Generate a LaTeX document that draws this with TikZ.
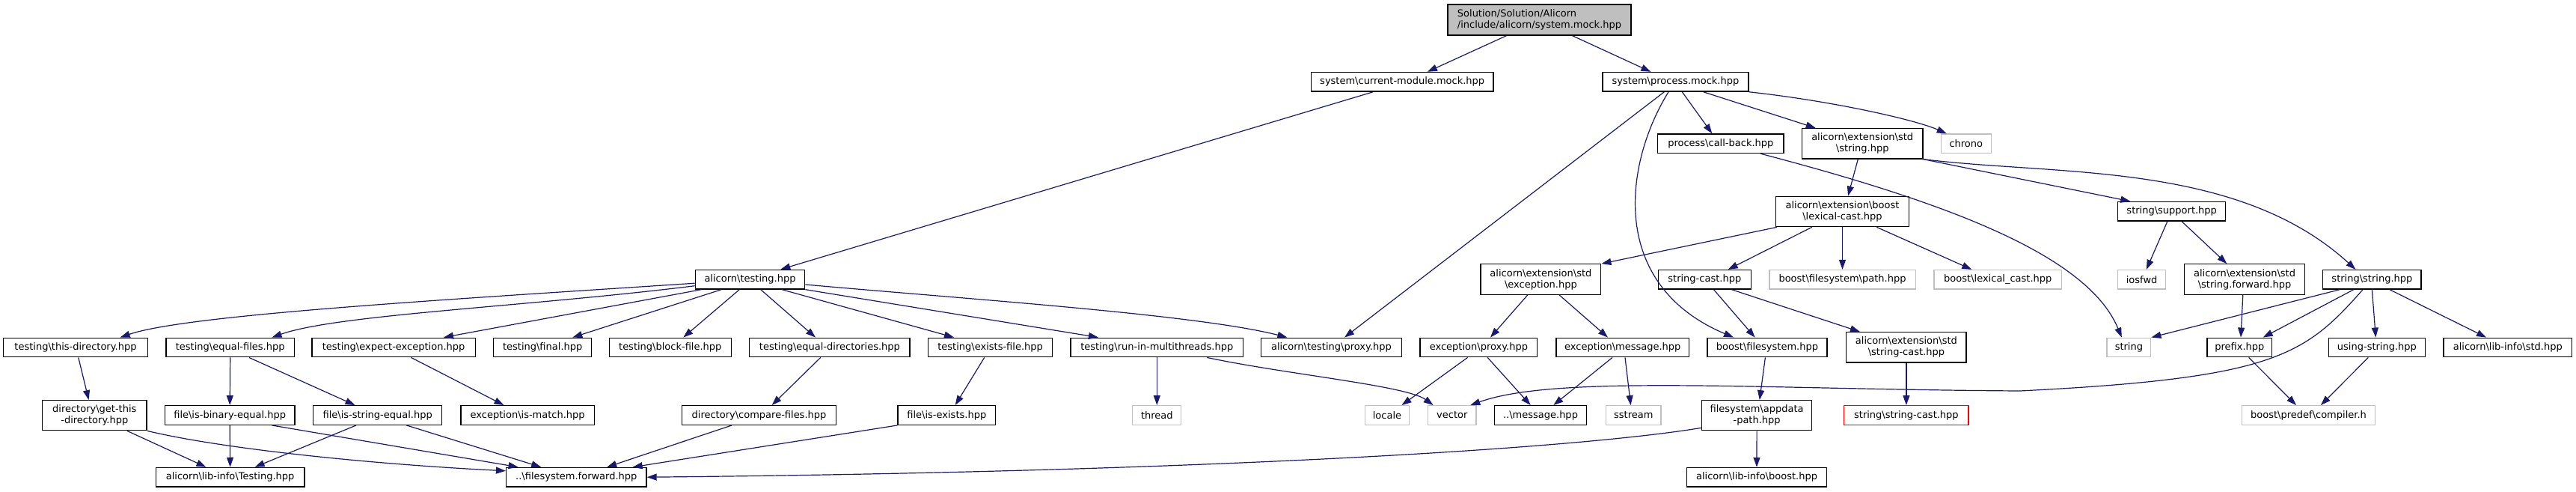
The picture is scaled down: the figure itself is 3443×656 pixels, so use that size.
\documentclass[tikz,border=0pt]{standalone}
\usepackage{fontspec}
\setmainfont{DejaVu Sans}
\usetikzlibrary{arrows.meta}
\definecolor{edgec}{HTML}{191970}
\definecolor{sysc}{HTML}{BFBFBF}
\newcommand\bks{\textbackslash}
\begin{document}
\begin{tikzpicture}[x=1pt,y=-1pt,font=\fontsize{13}{15}\selectfont,
  fbox/.style={draw=black,line width=1.3pt,fill=white,inner sep=0pt,align=center,minimum height=25.6pt},
  sbox/.style={fbox,draw=sysc},
  rbox/.style={fbox,draw=red},
  two/.style={minimum height=40.4pt},
  dep/.style={draw=edgec,line width=1.2pt,-{Triangle[length=13pt,width=9pt]}}]
\useasboundingbox (0,0) rectangle (3443,656);
\fill[white] (0,0) rectangle (3443,656);
% nodes
\node[fbox,fill=sysc,align=left,minimum width=245pt,minimum height=41pt] (root) at (2057.5,26.5) {Solution/Solution/Alicorn\\/include/alicorn/system.mock.hpp};
\node[fbox,minimum width=243.5pt] (curmod) at (1874.2,109.3) {system\bks current-module.mock.hpp};
\node[fbox,minimum width=195pt] (procmock) at (2239.5,109.3) {system\bks process.mock.hpp};
\node[fbox,minimum width=168.3pt] (callback) at (2299.8,191.8) {process\bks call-back.hpp};
\node[fbox,two,minimum width=161.7pt] (stdstring) at (2489.2,191.8) {alicorn\bks extension\bks std\\\bks string.hpp};
\node[sbox,minimum width=67pt] (chrono) at (2627.8,191.8) {chrono};
\node[fbox,minimum width=146.4pt] (testing) at (1002.5,373.2) {alicorn\bks testing.hpp};
\node[fbox,two,minimum width=177.6pt] (lexicalcast) at (2462.5,282.5) {alicorn\bks extension\bks boost\\\bks lexical-cast.hpp};
\node[fbox,minimum width=144pt] (support) at (2902.7,282.3) {string\bks support.hpp};
\node[fbox,two,minimum width=160.8pt] (stdexception) at (2059.4,373) {alicorn\bks extension\bks std\\\bks exception.hpp};
\node[fbox,minimum width=124pt] (stringcast) at (2278.3,373.3) {string-cast.hpp};
\node[sbox,minimum width=195.3pt] (fspath) at (2462.5,373.3) {boost\bks filesystem\bks path.hpp};
\node[sbox,minimum width=170.6pt] (lexcast) at (2670.3,373.3) {boost\bks lexical\_cast.hpp};
\node[sbox,minimum width=64pt] (iosfwd) at (2862.6,373.3) {iosfwd};
\node[fbox,two,minimum width=161.2pt] (stringforward) at (3000,373) {alicorn\bks extension\bks std\\\bks string.forward.hpp};
\node[fbox,minimum width=131.2pt] (stringstring) at (3170.4,373.3) {string\bks string.hpp};
% row 3
\node[fbox,minimum width=192.8pt] (thisdir) at (101,464) {testing\bks this-directory.hpp};
\node[fbox,minimum width=171.4pt] (equalfiles) at (307.7,464) {testing\bks equal-files.hpp};
\node[fbox,minimum width=218.2pt] (expectexc) at (526.1,464) {testing\bks expect-exception.hpp};
\node[fbox,minimum width=130.9pt] (final) at (725.2,464) {testing\bks final.hpp};
\node[fbox,minimum width=163pt] (blockfile) at (895.8,464) {testing\bks block-file.hpp};
\node[fbox,minimum width=214.3pt] (equaldirs) at (1108.9,464) {testing\bks equal-directories.hpp};
\node[fbox,minimum width=166pt] (existsfile) at (1323.6,464) {testing\bks exists-file.hpp};
\node[fbox,minimum width=230.5pt] (multithreads) at (1546.3,464) {testing\bks run-in-multithreads.hpp};
\node[fbox,minimum width=188.3pt] (tproxy) at (1779.4,464) {alicorn\bks testing\bks proxy.hpp};
\node[fbox,minimum width=156.8pt] (eproxy) at (1976.4,464) {exception\bks proxy.hpp};
\node[fbox,minimum width=177.6pt] (emessage) at (2168.8,464) {exception\bks message.hpp};
\node[fbox,minimum width=160pt] (boostfs) at (2362,464) {boost\bks filesystem.hpp};
\node[fbox,two,minimum width=160.3pt] (sstringcast) at (2547.9,463.9) {alicorn\bks extension\bks std\\\bks string-cast.hpp};
\node[sbox,minimum width=58.7pt] (string) at (2845.4,464) {string};
\node[fbox,minimum width=86.6pt] (prefix) at (2993.3,464) {prefix.hpp};
\node[fbox,minimum width=129pt] (usingstring) at (3176.9,464) {using-string.hpp};
\node[fbox,minimum width=171.6pt] (libstd) at (3351.8,464) {alicorn\bks lib-info\bks std.hpp};
% row 4
\node[fbox,two,minimum width=139.4pt,minimum height=40pt] (getthisdir) at (126.3,554.7) {directory\bks get-this\\-directory.hpp};
\node[fbox,minimum width=173.6pt] (isbinary) at (307.2,554.5) {file\bks is-binary-equal.hpp};
\node[fbox,minimum width=172.2pt] (isstring) at (504.7,554.5) {file\bks is-string-equal.hpp};
\node[fbox,minimum width=178.4pt] (ismatch) at (705.2,554.5) {exception\bks is-match.hpp};
\node[fbox,minimum width=205.6pt] (comparefiles) at (1014.5,554.5) {directory\bks compare-files.hpp};
\node[fbox,minimum width=130.7pt] (isexists) at (1265.3,554.5) {file\bks is-exists.hpp};
\node[sbox,minimum width=65pt] (thread) at (1546.3,554.5) {thread};
\node[sbox,minimum width=59pt] (locale) at (1854,554.5) {locale};
\node[sbox,minimum width=64.3pt] (vector) at (1940.8,554.5) {vector};
\node[fbox,minimum width=123.2pt] (message) at (2059,554.5) {..\bks message.hpp};
\node[sbox,minimum width=73.3pt] (sstream) at (2183.3,554.5) {sstream};
\node[fbox,two,minimum width=147.2pt,minimum height=40pt] (appdata) at (2348.1,554.7) {filesystem\bks appdata\\-path.hpp};
\node[rbox,minimum width=166.3pt] (redstringcast) at (2547.9,554.5) {string\bks string-cast.hpp};
\node[sbox,minimum width=178.6pt] (compiler) at (3085.5,554.5) {boost\bks predef\bks compiler.h};
% row 5
\node[fbox,minimum width=198.9pt] (libtesting) at (307.6,637.2) {alicorn\bks lib-info\bks Testing.hpp};
\node[fbox,minimum width=187.5pt] (fsforward) at (770.3,637.2) {..\bks filesystem.forward.hpp};
\node[fbox,minimum width=186.8pt] (libboost) at (2348,637.2) {alicorn\bks lib-info\bks boost.hpp};
% edges
\draw[dep] ([xshift=-44pt]root.south) -- ([xshift=33.7pt]curmod.north);
\draw[dep] ([xshift=44pt]root.south) -- ([xshift=-33.1pt]procmock.north);
\draw[dep] ([xshift=-39pt]curmod.south) -- ([xshift=40.8pt]testing.north);
\draw[dep] ([xshift=8.8pt]procmock.south) -- ([xshift=-11.5pt]callback.north);
\draw[dep] ([xshift=37.2pt]procmock.south) -- ([xshift=-62.5pt]stdstring.north);
\draw[dep] (procmock.south east) .. controls (2450,135) and (2560,160) .. ([xshift=-26.1pt]chrono.north);
\draw[dep] ([xshift=-15.2pt]procmock.south) -- ([xshift=17.6pt]tproxy.north);
\draw[dep] ([xshift=-9.5pt]procmock.south) .. controls (2170,220) and (2150,380) .. ([xshift=-45pt]boostfs.north);
\draw[dep] ([xshift=53.5pt]callback.south) .. controls (2600,270) and (2790,340) .. ([xshift=-9.6pt]string.north);
\draw[dep] ([xshift=-5.9pt]stdstring.south) -- ([xshift=7.5pt]lexicalcast.north);
\draw[dep] (stdstring.south east) -- ([xshift=-55.4pt]support.north);
\draw[dep] (stdstring.south east) .. controls (2750,235) and (2990,215) .. ([xshift=-22pt]stringstring.north);
\draw[dep] ([xshift=-87.5pt]lexicalcast.south) -- (stdexception.north east);
\draw[dep] ([xshift=-40.8pt]lexicalcast.south) -- ([xshift=31.4pt]stringcast.north);
\draw[dep] (lexicalcast.south) -- (fspath.north);
\draw[dep] ([xshift=45.8pt]lexicalcast.south) -- ([xshift=-35pt]lexcast.north);
\draw[dep] ([xshift=-5.9pt]support.south) -- ([xshift=6.2pt]iosfwd.north);
\draw[dep] ([xshift=13.4pt]support.south) -- ([xshift=-23.7pt]stringforward.north);
\draw[dep] ([xshift=-2.2pt]stringforward.south) -- ([xshift=1.7pt]prefix.north);
\draw[dep] ([xshift=-43.4pt]stringstring.south) -- (string.north east);
\draw[dep] ([xshift=-24.7pt]stringstring.south) -- ([xshift=31.4pt]prefix.north);
\draw[dep] ([xshift=-12.4pt]stringstring.south) .. controls (3080,475) and (3040,505) .. (2700,522) .. controls (2350,520) and (2080,500) .. ([xshift=24.5pt]vector.north);
\draw[dep] (stringstring.south) -- ([xshift=-1.6pt]usingstring.north);
\draw[dep] ([xshift=23.6pt]stringstring.south) -- ([xshift=-28.8pt]libstd.north);
\draw[dep] ([xshift=12.3pt]prefix.south) -- ([xshift=-16.5pt]compiler.north);
\draw[dep] ([xshift=-11.6pt]usingstring.south) -- ([xshift=16.4pt]compiler.north);
\draw[dep] ([xshift=12.2pt]stringcast.south) -- ([xshift=-16.4pt]boostfs.north);
\draw[dep] ([xshift=36.3pt]stringcast.south) -- ([xshift=-62pt]sstringcast.north);
\draw[dep] (sstringcast.south) -- (redstringcast.north);
\draw[dep] ([xshift=-17.6pt]stdexception.south) -- ([xshift=15.6pt]eproxy.north);
\draw[dep] ([xshift=24.6pt]stdexception.south) -- ([xshift=-19.8pt]emessage.north);
\draw[dep] ([xshift=-14.9pt]eproxy.south) -- ([xshift=19.5pt]locale.north);
\draw[dep] ([xshift=11.8pt]eproxy.south) -- ([xshift=-13.3pt]message.north);
\draw[dep] ([xshift=-13.8pt]emessage.south) -- ([xshift=17.3pt]message.north);
\draw[dep] ([xshift=3.2pt]emessage.south) -- ([xshift=-3.7pt]sstream.north);
\draw[dep] ([xshift=-2.6pt]boostfs.south) -- ([xshift=3.7pt]appdata.north);
\draw[dep] (appdata.south) -- (libboost.north);
\draw[dep] ([yshift=4pt]appdata.south west) .. controls (2100,600) and (1600,630) .. (fsforward.east);
\draw[dep] (isexists.south west) -- ([xshift=75.4pt]fsforward.north);
\draw[dep] ([xshift=-36.5pt]comparefiles.south) -- ([xshift=40.9pt]fsforward.north);
\draw[dep] ([xshift=38.7pt]isstring.south) -- ([xshift=-47.1pt]fsforward.north);
\draw[dep] ([xshift=56.3pt]isbinary.south) -- ([xshift=-77.7pt]fsforward.north);
\draw[dep] (getthisdir.south east) .. controls (300,600) and (500,620) .. ([yshift=-5pt]fsforward.north west);
\draw[dep] ([xshift=43.6pt]getthisdir.south) -- ([xshift=-32.1pt]libtesting.north);
\draw[dep] (isbinary.south) -- (libtesting.north);
\draw[dep] ([xshift=-28.7pt]isstring.south) -- ([xshift=33pt]libtesting.north);
\draw[dep] ([xshift=3.8pt]thisdir.south) -- ([xshift=-7.7pt]getthisdir.north);
\draw[dep] (equalfiles.south) -- (isbinary.north);
\draw[dep] ([xshift=25.2pt]equalfiles.south) -- ([xshift=-30.2pt]isstring.north);
\draw[dep] ([xshift=23.4pt]expectexc.south) -- ([xshift=-31.7pt]ismatch.north);
\draw[dep] ([xshift=-12.2pt]equaldirs.south) -- ([xshift=17.2pt]comparefiles.north);
\draw[dep] ([xshift=-7.9pt]existsfile.south) -- ([xshift=11.4pt]isexists.north);
\draw[dep] (multithreads.south) -- (thread.north);
\draw[dep] ([xshift=67pt]multithreads.south) .. controls (1720,500) and (1880,515) .. ([xshift=-25.2pt]vector.north);
\draw[dep] ([yshift=-5pt]testing.west) .. controls (600,400) and (250,420) .. ([xshift=59.7pt]thisdir.north);
\draw[dep] ([yshift=-8.5pt]testing.west) .. controls (700,410) and (450,420) .. ([xshift=55.8pt]equalfiles.north);
\draw[dep] ([xshift=-65pt]testing.south) -- ([xshift=66.9pt]expectexc.north);
\draw[dep] ([xshift=-38.2pt]testing.south) -- ([xshift=40.1pt]final.north);
\draw[dep] ([xshift=-14.2pt]testing.south) -- ([xshift=17.5pt]blockfile.north);
\draw[dep] ([xshift=14.2pt]testing.south) -- ([xshift=-18.9pt]equaldirs.north);
\draw[dep] ([xshift=42.5pt]testing.south) -- ([xshift=-48.6pt]existsfile.north);
\draw[dep] (testing.south east) -- ([xshift=-78.4pt]multithreads.north);
\draw[dep] ([yshift=-6.8pt]testing.east) .. controls (1300,400) and (1600,420) .. ([xshift=-59pt]tproxy.north);
\end{tikzpicture}
\end{document}
